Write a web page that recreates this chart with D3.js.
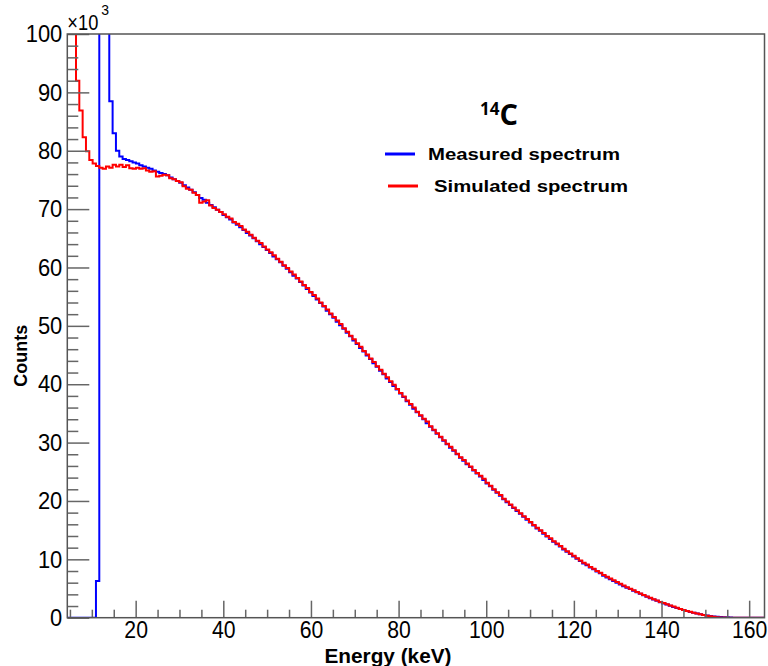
<!DOCTYPE html>
<html><head><meta charset="utf-8">
<script src="https://cdn.jsdelivr.net/npm/d3@7"></script>
<style>html,body{margin:0;padding:0;background:#fff;}svg{display:block;}</style>
</head><body>
<svg id="c" width="768" height="666"></svg>
<script>
// Histogram binning (keV)
const binStart = 4.1;
const binWidth = 0.76;
// Counts (x10^3) per bin
const measured = [0,0,0,0,0,0,0,0,0,6.3,
140,140,140,88.5,83.0,80.0,79.0,78.6,78.4,78.2,
78.0,77.8,77.5,77.3,77.1,76.9,76.6,76.4,76.2,76.0,
75.8,75.4,75.1,74.8,74.5,74.1,73.7,73.3,72.9,72.4,
71.9,71.6,71.1,70.7,70.3,69.9,69.5,69.0,68.6,68.2,
67.7,67.3,66.9,66.4,65.9,65.5,65.0,64.5,64.0,63.5,
63.0,62.5,61.9,61.4,60.9,60.3,59.8,59.2,58.6,58.1,
57.5,56.9,56.3,55.7,55.1,54.5,53.9,53.3,52.6,52.0,
51.4,50.7,50.1,49.5,48.8,48.2,47.5,46.9,46.2,45.6,
44.9,44.3,43.6,43.0,42.3,41.7,41.0,40.4,39.7,39.1,
38.4,37.8,37.1,36.5,35.8,35.2,34.6,34.0,33.3,32.7,
32.1,31.5,30.9,30.3,29.7,29.1,28.6,28.0,27.4,26.9,
26.3,25.8,25.2,24.7,24.2,23.6,23.0,22.5,21.9,21.4,
20.9,20.3,19.8,19.3,18.8,18.3,17.8,17.3,16.8,16.3,
15.8,15.3,14.9,14.4,13.9,13.5,13.0,12.6,12.2,11.7,
11.3,10.9,10.5,10.1,9.7,9.3,9.0,8.6,8.3,7.9,
7.6,7.2,6.9,6.6,6.3,6.0,5.7,5.4,5.15,4.9,
4.6,4.35,4.1,3.85,3.6,3.35,3.1,2.9,2.65,2.45,
2.25,2.05,1.85,1.65,1.48,1.3,1.13,0.98,0.84,0.72,
0.6,0.48,0.38,0.3,0.22,0.16,0.12,0.09,0.06,0.03,
0,0,0,0,0,0,0,0,0,0];
const simulated = [130,130,130,92.0,86.9,82.3,79.9,78.4,77.8,77.4,
77.1,76.9,77.3,77.1,77.6,77.3,77.6,77.2,77.5,77.0,
76.9,77.1,76.9,77.0,76.6,76.4,76.5,75.6,75.7,75.9,
75.8,75.3,75.1,74.8,74.6,73.9,73.5,73.3,72.8,72.4,
71.1,71.3,71.5,70.6,70.2,69.9,69.5,69.1,68.7,68.4,
67.8,67.5,67.1,66.5,66.1,65.6,65.1,64.6,64.2,63.6,
63.1,62.6,62.1,61.5,61.0,60.4,59.9,59.3,58.8,58.2,
57.6,57.0,56.5,55.8,55.3,54.7,54.0,53.4,52.8,52.1,
51.5,50.9,50.3,49.6,49.0,48.3,47.7,47.0,46.4,45.7,
45.1,44.4,43.8,43.1,42.5,41.8,41.2,40.5,39.9,39.2,
38.5,37.9,37.2,36.6,36.0,35.3,34.7,34.1,33.6,32.8,
32.2,31.6,31.0,30.4,29.8,29.3,28.7,28.1,27.5,27.0,
26.4,25.9,25.3,24.8,24.3,23.8,23.1,22.6,22.0,21.5,
21.0,20.4,19.9,19.4,18.9,18.4,17.9,17.4,16.9,16.4,
15.9,15.4,15.0,14.5,14.0,13.6,13.1,12.7,12.3,11.8,
11.4,11.0,10.6,10.2,9.8,9.4,9.1,8.7,8.4,8.0,
7.7,7.3,7.0,6.7,6.4,6.1,5.8,5.5,5.2,4.95,
4.7,4.4,4.15,3.9,3.65,3.4,3.15,2.95,2.7,2.5,
2.3,2.1,1.9,1.7,1.5,1.32,1.15,1.0,0.85,0.7,
0.58,0.45,0.35,0.25,0.15,0.08,0.04,0.02,0,0,
0,0,0,0,0,0,0,0,0,0];
const xTicks = [20,40,60,80,100,120,140,160];
const yTicks = [0,10,20,30,40,50,60,70,80,90,100];
const seriesNames = ["Measured spectrum","Simulated spectrum"];
const seriesColors = ["#0000ff","#ff0000"];

const L = 67.3, R = 764.5, T = 34, B = 617.7;
const x = d3.scaleLinear().domain([4.4,163.5]).range([L,R]);
const y = d3.scaleLinear().domain([0,100]).range([B,T]);
const svg = d3.select("#c");
const FONT = "Liberation Sans, Arial, sans-serif";

svg.append("clipPath").attr("id","clip").append("rect")
  .attr("x",L).attr("y",T).attr("width",R-L).attr("height",B-T);

function stepPts(vals){
  const pts = vals.map((v,i)=>[binStart+i*binWidth, v]);
  pts.push([binStart+vals.length*binWidth, vals[vals.length-1]]);
  return pts;
}
const line = d3.line().x(d=>x(d[0])).y(d=>y(d[1])).curve(d3.curveStepAfter);
const g = svg.append("g").attr("clip-path","url(#clip)");
[measured, simulated].forEach((s,i)=>{
  g.append("path").attr("d", line(stepPts(s))).attr("fill","none")
   .attr("stroke",seriesColors[i]).attr("stroke-width",2);
});

// axes
const tickCol = "#666";
const xAx = d3.axisBottom(x).tickValues(d3.range(5,165,5)).tickSize(0).tickFormat("");
const gx = svg.append("g").attr("transform",`translate(0,${B})`).call(xAx);
gx.select(".domain").remove();
gx.selectAll(".tick line").remove();
gx.selectAll(".tick").append("line").attr("y1",0)
  .attr("y2",d=> xTicks.includes(d) ? -17 : -8).attr("stroke",tickCol).attr("stroke-width",1.5);
const gxl = svg.append("g").attr("transform",`translate(0,${B})`)
  .call(d3.axisBottom(x).tickValues(xTicks).tickSize(0).tickPadding(4).tickFormat(d3.format("d")));
gxl.select(".domain").remove();
gxl.selectAll("text").attr("font-family",FONT).attr("font-size",23).attr("fill","#000")
  .attr("textLength",d=>String(d).length*11.8).attr("lengthAdjust","spacingAndGlyphs");

const yAx = d3.axisLeft(y).tickValues(d3.range(0,101,2)).tickSize(0).tickFormat("");
const gy = svg.append("g").attr("transform",`translate(${L},0)`).call(yAx);
gy.select(".domain").remove();
gy.selectAll(".tick line").remove();
gy.selectAll(".tick").append("line").attr("x1",0)
  .attr("x2",d=> yTicks.includes(d) ? 22 : 11).attr("stroke",tickCol).attr("stroke-width",1.5);
const gyl = svg.append("g").attr("transform",`translate(${L},0)`)
  .call(d3.axisLeft(y).tickValues(yTicks).tickSize(0).tickPadding(5).tickFormat(d3.format("d")));
gyl.select(".domain").remove();
gyl.selectAll("text").attr("font-family",FONT).attr("font-size",24).attr("fill","#000")
  .attr("textLength",d=>String(d).length*12.2).attr("lengthAdjust","spacingAndGlyphs");

// frame
svg.append("rect").attr("x",L).attr("y",T).attr("width",R-L).attr("height",B-T)
  .attr("fill","none").attr("stroke","#555").attr("stroke-width",1.5);

// exponent label
svg.append("text").attr("x",L).attr("y",30).attr("font-family",FONT).attr("font-size",22).attr("fill","#000")
  .attr("textLength",31).attr("lengthAdjust","spacingAndGlyphs").text("\u00d710");
svg.append("text").attr("x",L+34).attr("y",15).attr("font-family",FONT).attr("font-size",14).attr("fill","#000").text("3");

// axis titles
svg.append("text").attr("x",388).attr("y",663).attr("text-anchor","middle")
  .attr("font-family",FONT).attr("font-weight","bold").attr("font-size",20)
  .attr("textLength",127).attr("lengthAdjust","spacingAndGlyphs")
  .text("Energy (keV)");
svg.append("text").attr("transform",`translate(27,${(T+B)/2+30}) rotate(-90)`).attr("text-anchor","middle")
  .attr("font-family",FONT).attr("font-weight","bold").attr("font-size",18)
  .text("Counts");

// title 14C
const tt = svg.append("text").attr("x",480).attr("y",125).attr("font-family","Open Sans, Liberation Sans, sans-serif").attr("font-weight","bold").attr("fill","#000");
tt.append("tspan").attr("font-size",17).attr("dy",-10).text("14");
tt.append("tspan").attr("font-size",29).attr("dy",10).text("C");

// legend
const legY = [154,186];
const legX1 = [385,388], legX2=[415,418], legTx=[428,434], legTw=[192,194];
seriesNames.forEach((n,i)=>{
  svg.append("line").attr("x1",legX1[i]).attr("x2",legX2[i]).attr("y1",legY[i]).attr("y2",legY[i])
    .attr("stroke",seriesColors[i]).attr("stroke-width",3);
  svg.append("text").attr("x",legTx[i]).attr("y",legY[i]+6).attr("font-family",FONT)
    .attr("font-weight","bold").attr("font-size",17).attr("textLength",legTw[i]).attr("lengthAdjust","spacingAndGlyphs").text(n);
});
</script>
</body></html>
